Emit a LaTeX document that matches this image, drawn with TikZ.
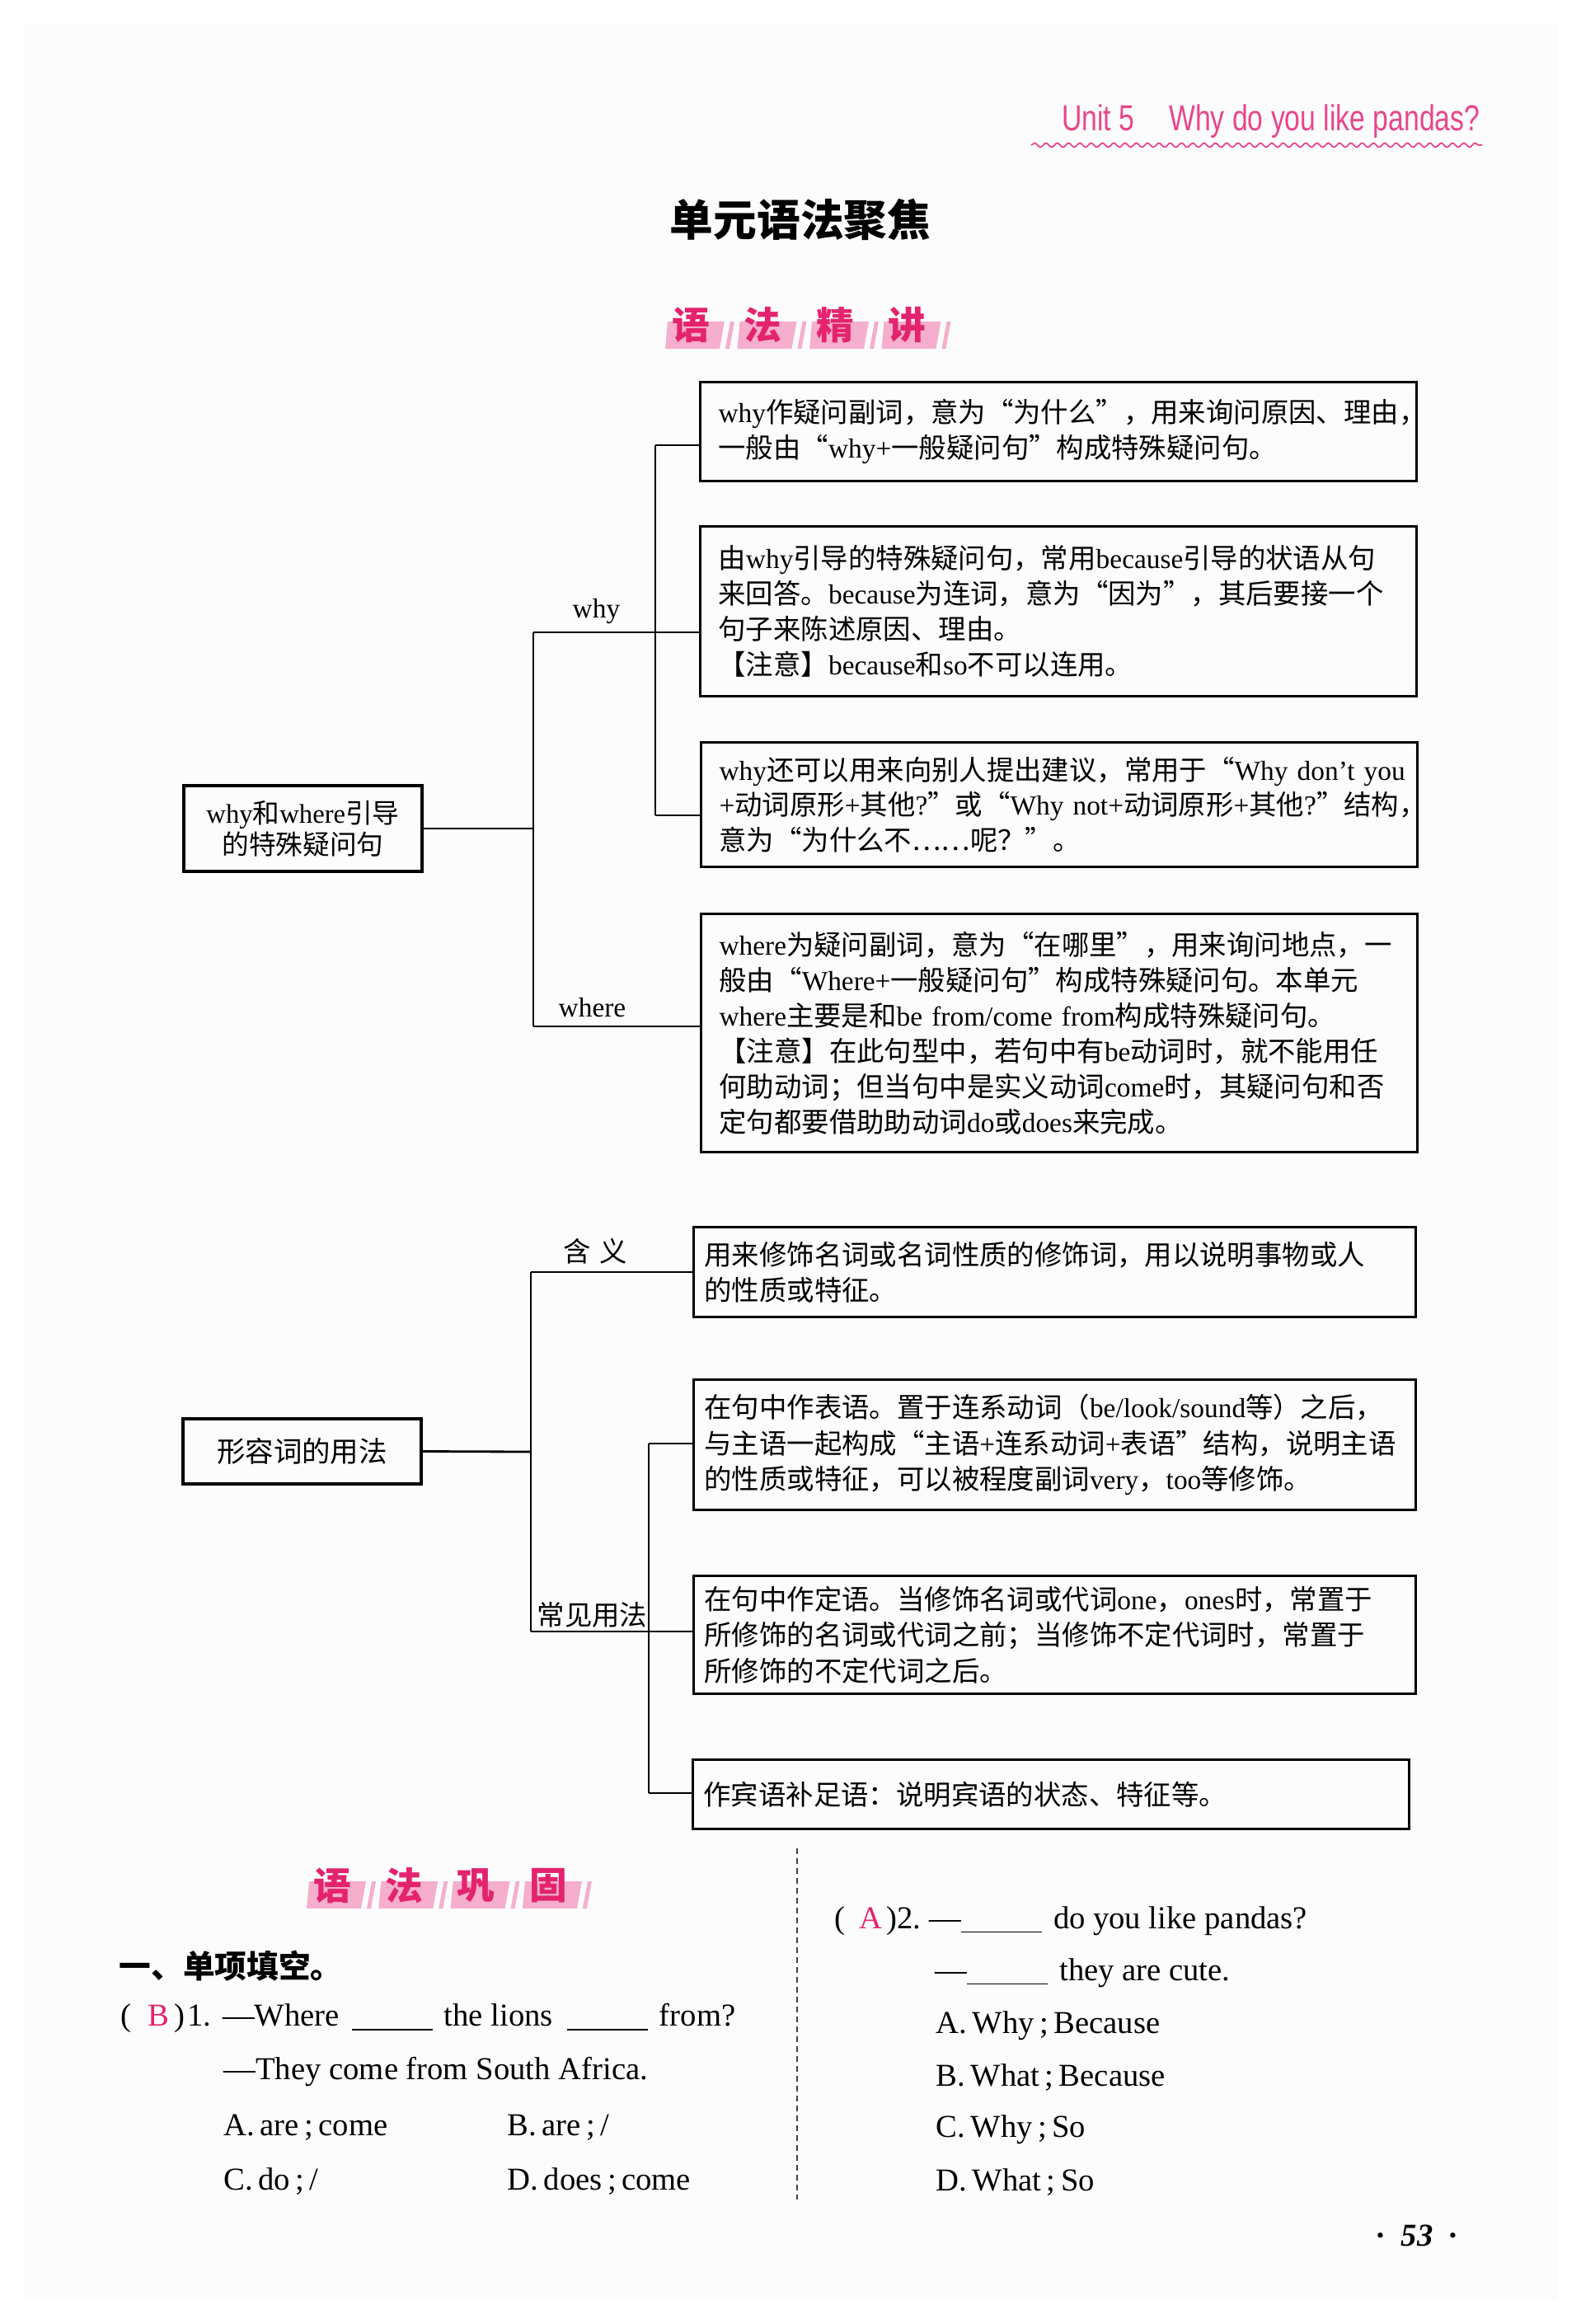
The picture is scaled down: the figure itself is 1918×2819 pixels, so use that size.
\documentclass[tikz,border=0pt]{standalone}
\usepackage{fontspec}
\setmainfont{Liberation Serif}
\setsansfont{Liberation Sans}
\newfontfamily\cjk{Noto Sans CJK SC}
\usepackage{xcolor}
\usepackage{tikz}
\usetikzlibrary{positioning, decorations.pathmorphing}

% Chinese characters switch to the CJK font, Latin goes back to the serif
\XeTeXinterchartokenstate=1
\newXeTeXintercharclass\cjkcls
\newcount\cjkc
\newcommand\cjkrange[2]{\cjkc=#1 \loop\XeTeXcharclass\cjkc=\cjkcls\advance\cjkc by 1 \ifnum\cjkc<#2 \repeat}
\cjkrange{"4E00}{"A000}
\cjkrange{"3000}{"3040}
\cjkrange{"FF00}{"FFF0}
\XeTeXcharclass"201C=\cjkcls
\XeTeXcharclass"201D=\cjkcls
\XeTeXcharclass"2026=\cjkcls
\XeTeXinterchartoks 0 \cjkcls={\cjk}
\XeTeXinterchartoks 4095 \cjkcls={\cjk}
\XeTeXinterchartoks \cjkcls 0={\rmfamily}

\definecolor{hpink}{RGB}{228,35,110}
\definecolor{hlpink}{RGB}{245,175,205}
\definecolor{unitpink}{RGB}{232,70,140}
\definecolor{pagebg}{RGB}{252,252,252}

\newcommand\boxfont{\fontsize{9.5}{12.2}\selectfont}
\newcommand\adjfont{\fontsize{9.5}{12.4}\selectfont}
\newcommand\qfont{\fontsize{11}{13}\selectfont}
\newcommand\blank{\rule[-0.5mm]{9.8mm}{0.5pt}}

\tikzset{
  notebox/.style={draw, line width=0.9pt, anchor=north west, align=left, inner ysep=0pt, font=\boxfont},
  whybox/.style={notebox, inner xsep=2.2mm, text width=82.5mm},
  adjbox/.style={notebox, inner xsep=1.3mm, text width=85mm, font=\adjfont},
  rootbox/.style={draw, line width=0.9pt, minimum width=28.9mm, align=center},
  conn/.style={line width=0.8pt},
  branchlab/.style={font=\boxfont, inner sep=0pt},
  bannerch/.style={font=\fontsize{13}{14}\selectfont\bfseries, text=hpink, inner sep=0pt},
  qline/.style={anchor=west, inner sep=0pt, font=\qfont},
}

\begin{document}
\begin{tikzpicture}[x=0.1mm, y=-0.1mm]
  \useasboundingbox (0,0) rectangle (1918,2819);
  \fill[pagebg] (28,28) rectangle (1890,2792);

  % running head
  \node[anchor=east, inner sep=0pt, text=unitpink, font=\sffamily\fontsize{9.6}{10}\selectfont] (unit) at (1796,147)
    {\scalebox{1}[1.3]{Unit 5\hspace{4.2mm}Why do you like pandas?}};
  \draw[unitpink, line width=0.5pt, decorate, decoration={snake, amplitude=0.25mm, segment length=1.37mm}]
    (1251,176) -- (1798,176);

  \node[font=\fontsize{15}{16}\selectfont\bfseries] (title) at (971,266) {单元语法聚焦};

  % banner 1
  \foreach \ch [count=\i from 0] in {语,法,精,讲}{
    \pgfmathsetmacro\bx{838+87.5*\i}
    \fill[hlpink] (\bx-31,423) -- (\bx-28,390) -- (\bx+41,390) -- (\bx+35,423) -- cycle;
    \fill[hlpink] (\bx+42,423) -- (\bx+47,423) -- (\bx+53,390) -- (\bx+48,390) -- cycle;
    \node[bannerch] (jj\i) at (\bx,394) {\ch};
  }

  %% why / where
  \node[rootbox, minimum height=10.4mm, font=\fontsize{9.3}{10.8}\selectfont] (wq) at (367.5,1005) {why和where引导\\的特殊疑问句};

  \node[whybox, minimum height=12mm] (why1) at (848,462)
    {why作疑问副词，意为“为什么”，用来询问原因、理由，\\
     一般由“why+一般疑问句”构成特殊疑问句。};
  \node[whybox, minimum height=20.6mm] (why2) at (848,637)
    {由why引导的特殊疑问句，常用because引导的状语从句\\
     来回答。because为连词，意为“因为”，其后要接一个\\
     句子来陈述原因、理由。\\
     【注意】because和so不可以连用。};
  \node[whybox, minimum height=15.1mm] (why3) at (849,899)
    {why还可以用来向别人提出建议，常用于“Why~don’t~you\\
     +动词原形+其他?”或“Why~not+动词原形+其他?”结构，\\
     意为“为什么不……呢？”。};
  \node[whybox, minimum height=28.9mm] (where1) at (849,1107)
    {where为疑问副词，意为“在哪里”，用来询问地点，一\\
     般由“Where+一般疑问句”构成特殊疑问句。本单元\\
     \rmfamily where主要是和be~from/come~from构成特殊疑问句。\\
     【注意】在此句型中，若句中有be动词时，就不能用任\\
     何助动词；但当句中是实义动词come时，其疑问句和否\\
     定句都要借助助动词do或does来完成。};

  \coordinate (wqj) at (647,1005);
  \coordinate (whyj) at (647,767);
  \coordinate (wherej) at (647,1245);
  \coordinate (whyt) at (795,540);
  \coordinate (whyb) at (795,989);

  \draw[conn] (wq.east) -- (wqj);
  \draw[conn] (whyj) -- (wherej);
  \draw[conn] (whyj) -- (whyj -| why2.west);
  \draw[conn] (whyt) -- (whyb);
  \draw[conn] (whyt) -- (whyt -| why1.west);
  \draw[conn] (whyb) -- (whyb -| why3.west);
  \draw[conn] (wherej) -- (wherej -| where1.west);

  \node[branchlab] (whylab) [above right=1mm and 4.7mm of whyj] {why};
  \node[branchlab] (wherelab) [above right=1mm and 3mm of wherej] {where};

  %% adjectives
  \node[rootbox, minimum height=7.9mm, font=\fontsize{9.8}{12}\selectfont] (adj) at (366.5,1760.5) {形容词的用法};

  \node[adjbox, minimum height=10.9mm] (mean1) at (840,1487)
    {用来修饰名词或名词性质的修饰词，用以说明事物或人\\
     的性质或特征。};
  \node[adjbox, minimum height=15.8mm] (use1) at (840,1672)
    {在句中作表语。置于连系动词（be/look/sound等）之后，\\
     与主语一起构成“主语+连系动词+表语”结构，说明主语\\
     的性质或特征，可以被程度副词very，too等修饰。};
  \node[adjbox, minimum height=14.3mm] (use2) at (840,1910)
    {在句中作定语。当修饰名词或代词one，ones时，常置于\\
     所修饰的名词或代词之前；当修饰不定代词时，常置于\\
     所修饰的不定代词之后。};
  \node[adjbox, minimum height=8.4mm, text width=84.3mm] (use3) at (839,2133)
    {作宾语补足语：说明宾语的状态、特征等。};

  \coordinate (adjj) at (644,1761);
  \coordinate (meanj) at (644,1543);
  \coordinate (usej) at (644,1979);
  \coordinate (uset) at (787,1751);
  \coordinate (useb) at (787,2175);

  \draw[conn] (adj.east) -- (adjj);
  \draw[conn] (meanj) -- (usej);
  \draw[conn] (meanj) -- (meanj -| mean1.west);
  \draw[conn] (usej) -- (usej -| use2.west);
  \draw[conn] (uset) -- (useb);
  \draw[conn] (uset) -- (uset -| use1.west);
  \draw[conn] (useb) -- (useb -| use3.west);

  \node[branchlab] (meanlab) [above right=0.9mm and 3.9mm of meanj] {含\hspace{0.3em}义};
  \node[branchlab] (uselab) [above right=0.4mm and 0.7mm of usej] {常见用法};

  % banner 2
  \foreach \ch [count=\i from 0] in {语,法,巩,固}{
    \pgfmathsetmacro\bx{403+87.3*\i}
    \fill[hlpink] (\bx-31,2315) -- (\bx-28,2282) -- (\bx+41,2282) -- (\bx+35,2315) -- cycle;
    \fill[hlpink] (\bx+42,2315) -- (\bx+47,2315) -- (\bx+53,2282) -- (\bx+48,2282) -- cycle;
    \node[bannerch] (gg\i) at (\bx,2287) {\ch};
  }

  \node[qline, font=\fontsize{11}{12}\selectfont\bfseries] (part1) at (144,2385) {一、单项填空。};

  % question 1
  \node[qline] (q1a) at (146,2448)
    {(\hspace{2mm}\textcolor{hpink}{B}\hspace{0.6mm})\hspace{0.3mm}1.\hspace{1.4mm}—Where\hspace{1.5mm}\blank\hspace{1.4mm}the lions\hspace{1.7mm}\blank\hspace{1.4mm}from?};
  \node[qline] (q1b) at (271,2513) {—They come from South Africa.};
  \node[qline] (q1A) at (271,2581) {A.\,are\,;\,come};
  \node[qline] (q1B) at (615,2581) {B.\,are\,;\,/};
  \node[qline] (q1C) at (271,2646) {C.\,do\,;\,/};
  \node[qline] (q1D) at (615,2646) {D.\,does\,;\,come};

  \draw[black!75, line width=0.4pt, dash pattern=on 0.7mm off 0.5mm] (967,2242) -- (967,2668);

  % question 2
  \node[qline] (q2a) at (1012,2330)
    {(\hspace{1.7mm}\textcolor{hpink}{A}\hspace{0.5mm})2.\hspace{1mm}—\blank\hspace{1.4mm}do you like pandas?};
  \node[qline] (q2b) at (1134,2393) {—\blank\hspace{1.4mm}they are cute.};
  \node[qline] (q2A) at (1135,2457) {A.\,Why\,;\,Because};
  \node[qline] (q2B) at (1135,2520) {B.\,What\,;\,Because};
  \node[qline] (q2C) at (1135,2583) {C.\,Why\,;\,So};
  \node[qline] (q2D) at (1135,2647) {D.\,What\,;\,So};

  \node[font=\fontsize{11}{12}\selectfont\bfseries] (pg) at (1719,2712) {·\hspace{1.8mm}\textit{53}\hspace{1.8mm}·};
\end{tikzpicture}
\end{document}
